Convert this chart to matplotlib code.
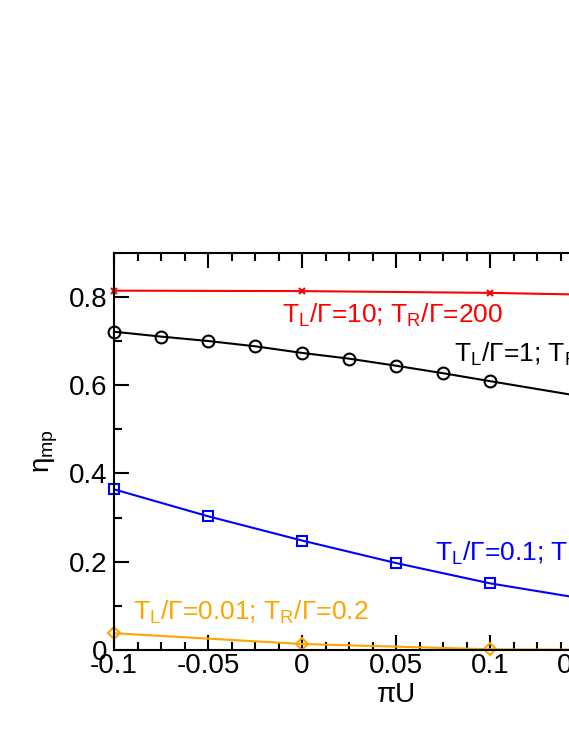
import matplotlib
matplotlib.use("Agg")
import matplotlib.pyplot as plt
from matplotlib.ticker import MultipleLocator, FixedLocator

plt.rcParams['font.family'] = ['Liberation Sans', 'DejaVu Sans']
plt.rcParams['mathtext.fontset'] = 'custom'
plt.rcParams['mathtext.rm'] = 'Liberation Sans'
plt.rcParams['mathtext.it'] = 'Liberation Sans:italic'

# Data
x_red = [-0.1, 0.0, 0.1, 0.2]
y_red = [0.814, 0.813, 0.809, 0.801]

x_black = [-0.1, -0.075, -0.05, -0.025, 0.0, 0.025, 0.05, 0.075, 0.1, 0.2]
y_black = [0.721, 0.710, 0.700, 0.688, 0.673, 0.660, 0.644, 0.627, 0.609, 0.538]

x_blue = [-0.1, -0.05, 0.0, 0.05, 0.1, 0.15, 0.2]
y_blue = [0.364, 0.303, 0.248, 0.197, 0.151, 0.116, 0.085]

x_orange = [-0.1, 0.0, 0.1, 0.2]
y_orange = [0.038, 0.0136, 0.0016, 0.0]

xticks = [-0.1, -0.05, 0.0, 0.05, 0.1, 0.15, 0.2]
xticklabels = ["-0.1", "-0.05", "0", "0.05", "0.1", "0.15", "0.2"]
yticks = [0.0, 0.2, 0.4, 0.6, 0.8]
yticklabels = ["0", "0.2", "0.4", "0.6", "0.8"]

labels = [
    "T$_\\mathrm{L}$/Γ=10; T$_\\mathrm{R}$/Γ=200",
    "T$_\\mathrm{L}$/Γ=1; T$_\\mathrm{R}$/Γ=20",
    "T$_\\mathrm{L}$/Γ=0.1; T$_\\mathrm{R}$/Γ=2",
    "T$_\\mathrm{L}$/Γ=0.01; T$_\\mathrm{R}$/Γ=0.2",
]

orange = '#FFA500'

fig = plt.figure(figsize=(5.69, 7.36), dpi=100)
ax = fig.add_axes([114/569, 86/736, 564/569, 397.3/736])

ax.plot(x_red, y_red, color='red', lw=1.5, marker='x', ms=5, mew=1.5, clip_on=False)
ax.plot(x_black, y_black, color='black', lw=1.5, marker='o', ms=8.5, mfc='none', mew=1.5, clip_on=False)
ax.plot(x_blue, y_blue, color='blue', lw=1.5, marker='s', ms=7.5, mfc='none', mew=1.5, clip_on=False)
ax.plot(x_orange, y_orange, color=orange, lw=1.5, marker='D', ms=6, mfc='none', mew=1.5, clip_on=False)

ax.set_xlim(-0.1, 0.2)
ax.set_ylim(0, 0.9)
ax.xaxis.set_major_locator(FixedLocator(xticks))
ax.set_xticklabels(xticklabels)
ax.yaxis.set_major_locator(FixedLocator(yticks))
ax.set_yticklabels(yticklabels)
ax.xaxis.set_minor_locator(MultipleLocator(0.0125))
ax.yaxis.set_minor_locator(MultipleLocator(0.1))

ax.tick_params(which='both', direction='in', top=True, right=True, width=1.5, labelsize=20)
ax.tick_params(which='major', length=11)
ax.tick_params(which='minor', length=6)
ax.tick_params(axis='x', pad=2)
ax.tick_params(axis='y', pad=5)
for s in ax.spines.values():
    s.set_linewidth(1.5)

ax.set_xlabel("πU", fontsize=20, labelpad=2)
ax.set_ylabel("η$_\\mathrm{mp}$", fontsize=20, labelpad=6)

tk = dict(fontsize=19, transform=ax.transData)
ax.text(-0.0104, 0.741, labels[0], color='red', **tk)
ax.text(0.0807, 0.653, labels[1], color='black', **tk)
ax.text(0.0710, 0.202, labels[2], color='blue', **tk)
ax.text(-0.0898, 0.068, labels[3], color=orange, **tk)

fig.savefig("out.png", dpi=100)
